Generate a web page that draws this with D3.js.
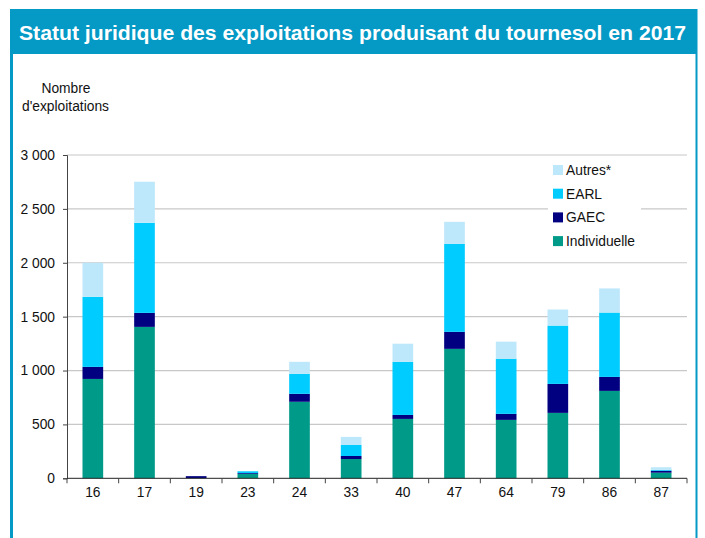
<!DOCTYPE html>
<html><head><meta charset="utf-8">
<script src="https://cdn.jsdelivr.net/npm/d3@7"></script>
<style>body{margin:0;background:#fff;}svg{display:block;font-family:"Liberation Sans",Arial,sans-serif;}</style>
</head><body>
<svg id="c" width="705" height="538"></svg>
<script>
const categories = ["16","17","19","23","24","33","40","47","64","79","86","87"];
const individuelle = [922,1405,2,40,710,179,551,1201,542,607,811,52];
const gaec = [112,130,18,8,74,28,37,158,56,269,130,18];
const earl = [650,836,0,18,186,102,493,817,512,541,597,8];
const autres = [316,381,0,2,111,75,168,204,158,149,224,25];
const seriesNames = ["Individuelle","GAEC","EARL","Autres*"];
const seriesColors = ["#009a88","#000080","#00ccff","#bde8fb"];
const yTicks = [0,500,1000,1500,2000,2500,3000];
const title = "Statut juridique des exploitations produisant du tournesol en 2017";

(function(){
const fs = 13.8;
const svg = d3.select("#c");
// frame
svg.append("rect").attr("x",10).attr("y",9).attr("width",687.5).attr("height",540).attr("fill","#0599c6");
svg.append("rect").attr("x",13).attr("y",54).attr("width",682.5).attr("height",490).attr("fill","#fff");
svg.append("text").attr("x",19).attr("y",39.5).attr("fill","#fff").attr("font-weight","bold")
  .attr("font-size",20).attr("textLength",667).attr("lengthAdjust","spacingAndGlyphs").text(title);

const pl=67, pr=687, pt=155, pb=478.3;
const x = d3.scaleBand().domain(categories).range([pl,pr]).paddingInner(0.6).paddingOuter(0.3);
const y = d3.scaleLinear().domain([0,3000]).range([pb,pt]);

// gridlines
svg.append("g").selectAll("line").data(yTicks.slice(1)).join("line")
  .attr("x1",pl).attr("x2",pr).attr("y1",d=>y(d)).attr("y2",d=>y(d))
  .attr("stroke","#c8c8c8").attr("stroke-width",1.2);

// stacks
const rows = categories.map((c,i)=>({cat:c,Individuelle:individuelle[i],GAEC:gaec[i],EARL:earl[i],"Autres*":autres[i]}));
const stack = d3.stack().keys(seriesNames)(rows);
svg.append("g").selectAll("g").data(stack).join("g").attr("fill",(d,i)=>seriesColors[i])
  .selectAll("rect").data(d=>d).join("rect")
  .attr("x",d=>x(d.data.cat)).attr("width",x.bandwidth())
  .attr("y",d=>y(d[1])).attr("height",d=>y(d[0])-y(d[1]));

// legend
const lg = svg.append("g");
lg.append("rect").attr("x",548).attr("y",157).attr("width",93).attr("height",98).attr("fill","#fff");
const legendOrder = [3,2,1,0];
legendOrder.forEach((si,k)=>{
  const cy = 170 + k*23.7;
  lg.append("rect").attr("x",553).attr("y",cy-5).attr("width",10).attr("height",10).attr("fill",seriesColors[si]);
  lg.append("text").attr("x",566).attr("y",cy+5).attr("font-size",fs).attr("fill","#111").text(seriesNames[si]);
});

// y axis
const yAxis = d3.axisLeft(y).tickValues(yTicks).tickSize(4).tickPadding(8)
  .tickFormat(d=>d3.format(",")(d).replace(/,/g," "));
const ya = svg.append("g").attr("transform",`translate(${pl},0)`).call(yAxis);
ya.select(".domain").attr("stroke","#444");
ya.selectAll(".tick line").attr("stroke","#444");
ya.selectAll("text").attr("font-size",fs).attr("fill","#111").attr("font-family","Liberation Sans, Arial, sans-serif");

// x axis
const xa = svg.append("g").attr("transform",`translate(0,${pb})`).call(d3.axisBottom(x).tickSize(0).tickPadding(9));
xa.select(".domain").attr("stroke","#222").attr("d",`M${pl},0H${pr}`);
xa.selectAll("text").attr("font-size",fs).attr("fill","#111").attr("font-family","Liberation Sans, Arial, sans-serif");
const bounds = categories.map(c=>x(c)-x.step()*x.paddingInner()/2).concat([pr]);
svg.append("g").selectAll("line").data(bounds).join("line")
  .attr("x1",d=>d).attr("x2",d=>d).attr("y1",pb).attr("y2",pb+5).attr("stroke","#444");

// y title
svg.append("text").attr("x",66).attr("y",93).attr("text-anchor","middle").attr("font-size",fs).attr("fill","#111").text("Nombre");
svg.append("text").attr("x",65.5).attr("y",111).attr("text-anchor","middle").attr("font-size",fs).attr("fill","#111").text("d'exploitations");
})();
</script>
</body></html>
